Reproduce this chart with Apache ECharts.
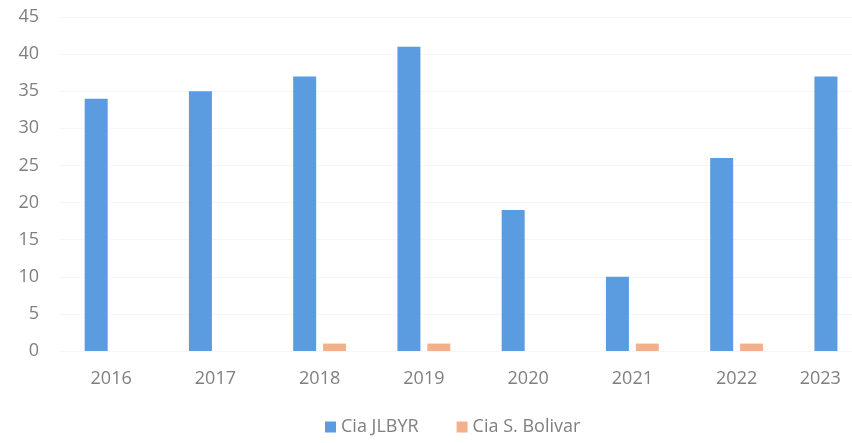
<!DOCTYPE html>
<html><head><meta charset="utf-8">
<script src="https://cdn.jsdelivr.net/npm/echarts@6/dist/echarts.min.js"></script>
<style>html,body{margin:0;padding:0;background:#fff}#c{width:852px;height:443px}</style>
</head><body><div id="c"></div>
<script>
const categories = ['2016','2017','2018','2019','2020','2021','2022','2023'];
const jlbyr = [34, 35, 37, 41, 19, 10, 26, 37];
const bolivar = [null, null, 1, 1, null, 1, 1, null];
const seriesNames = ['Cia JLBYR', 'Cia S. Bolivar'];

const chart = echarts.init(document.getElementById('c'), null, {renderer: 'canvas'});
const font = '"Open Sans", Lato, sans-serif';
chart.setOption({
  animation: false,
  grid: {left: 59, top: 17, width: 834, height: 334, containLabel: false, outerBoundsMode: 'none'},
  legend: {
    bottom: 2, left: 320, itemWidth: 11, itemHeight: 11, itemGap: 38,
    icon: 'rect',
    textStyle: {color: '#7f7f7f', fontSize: 18, fontFamily: font},
    data: seriesNames
  },
  xAxis: {
    type: 'category', data: categories,
    axisLine: {show: false}, axisTick: {show: false},
    axisLabel: {color: '#7f7f7f', fontSize: 18, fontFamily: font, margin: 19, alignMaxLabel: 'right'}
  },
  yAxis: {
    type: 'value', min: 0, max: 45, interval: 5,
    axisLine: {show: false}, axisTick: {show: false},
    splitLine: {lineStyle: {color: '#f6f6f6'}},
    axisLabel: {color: '#7f7f7f', fontSize: 18, fontFamily: font, margin: 20}
  },
  series: [
    {name: seriesNames[0], type: 'bar', data: jlbyr, barWidth: 23, barGap: '30%',
     itemStyle: {color: '#5b9be0'}},
    {name: seriesNames[1], type: 'bar', data: bolivar, barWidth: 23,
     itemStyle: {color: '#f4b08a'}}
  ]
});
</script></body></html>
